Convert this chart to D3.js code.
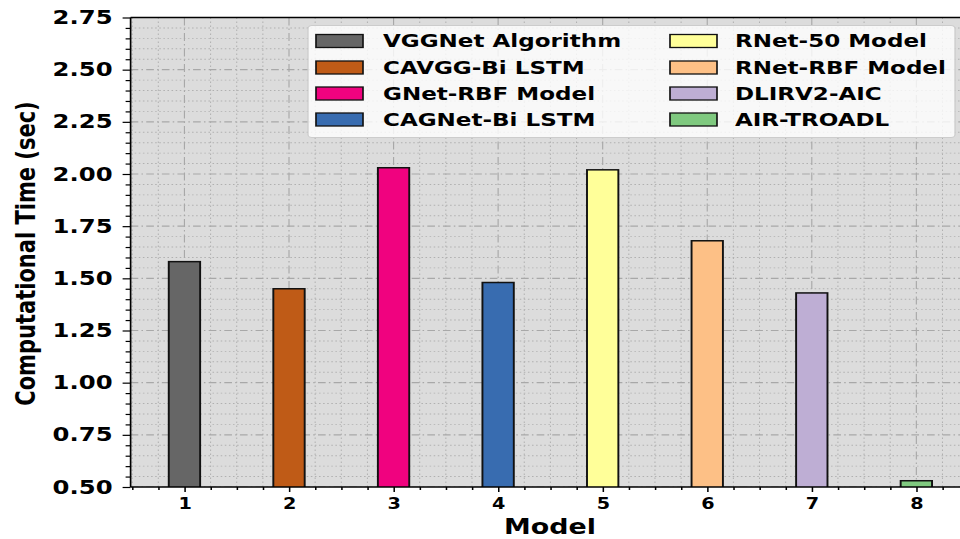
<!DOCTYPE html>
<html>
<head>
<meta charset="utf-8">
<script src="https://cdn.jsdelivr.net/npm/d3@7"></script>
<style>
  html, body { margin: 0; padding: 0; background: #ffffff; }
  svg { display: block; }
  text { font-family: "DejaVu Sans", sans-serif; font-weight: bold; }
</style>
</head>
<body>
<svg id="chart"></svg>
<script>
// ---- data ----
const categories = [1, 2, 3, 4, 5, 6, 7, 8];
const seriesNames = [
  "VGGNet Algorithm", "CAVGG-Bi LSTM", "GNet-RBF Model", "CAGNet-Bi LSTM",
  "RNet-50 Model", "RNet-RBF Model", "DLIRV2-AIC", "AIR-TROADL"
];
const values = [1.58, 1.45, 2.03, 1.48, 2.02, 1.68, 1.43, 0.53];
const colors = ["#666666", "#bf5b17", "#f0027f", "#386cb0", "#ffff99", "#fdc086", "#beaed4", "#7fc97f"];
const yTicks = [0.50, 0.75, 1.00, 1.25, 1.50, 1.75, 2.00, 2.25, 2.50, 2.75];
const xTicks = [1, 2, 3, 4, 5, 6, 7, 8];
const xLabel = "Model";
const yLabel = "Computational Time (sec)";

// ---- layout (figure is horizontally stretched) ----
const W = 960, H = 539, S = 1.28;
const VW = W / S;
const X = px => px / S;

const svg = d3.select("#chart")
  .attr("width", W).attr("height", H)
  .attr("viewBox", `0 0 ${VW} ${H}`)
  .attr("preserveAspectRatio", "none");

const x = d3.scaleLinear().domain([0.485, 8.515]).range([X(130.6), X(970.2)]);
const y = d3.scaleLinear().domain([0.5, 2.75]).range([487, 17.5]);

const pLeft = x.range()[0], pRight = x.range()[1];
const pTop = y.range()[1], pBottom = y.range()[0];

svg.append("defs").append("clipPath").attr("id", "plotclip")
  .append("rect").attr("x", pLeft).attr("y", pTop)
  .attr("width", pRight - pLeft).attr("height", pBottom - pTop);

// background
svg.append("rect").attr("x", pLeft).attr("y", pTop)
  .attr("width", pRight - pLeft).attr("height", pBottom - pTop)
  .attr("fill", "#dcdcdc");

const grid = svg.append("g").attr("clip-path", "url(#plotclip)");

// minor grids
const yMinor = d3.range(0.5, 2.7501, 0.05).filter(v => Math.abs((v * 4) - Math.round(v * 4)) > 1e-6);
const xMinor = d3.range(0.5, 8.51, 0.25).filter(v => Math.abs(v - Math.round(v)) > 1e-6);
grid.selectAll(".hmin").data(yMinor).join("line")
  .attr("x1", pLeft).attr("x2", pRight)
  .attr("y1", d => y(d)).attr("y2", d => y(d))
  .attr("stroke", "#b0b0b0").attr("stroke-width", 0.9).attr("stroke-dasharray", "1.2,2");
grid.selectAll(".vmin").data(xMinor).join("line")
  .attr("x1", d => x(d)).attr("x2", d => x(d))
  .attr("y1", pTop).attr("y2", pBottom)
  .attr("stroke", "#b0b0b0").attr("stroke-width", 0.8).attr("stroke-dasharray", "1.5,2.5");
// major grids
grid.selectAll(".hmaj").data(yTicks).join("line")
  .attr("x1", pLeft).attr("x2", pRight)
  .attr("y1", d => y(d)).attr("y2", d => y(d))
  .attr("stroke", "#a8a8a8").attr("stroke-width", 1.1).attr("stroke-dasharray", "6,2.5,1.2,2.5");
grid.selectAll(".vmaj").data(xTicks).join("line")
  .attr("x1", d => x(d)).attr("x2", d => x(d))
  .attr("y1", pTop).attr("y2", pBottom)
  .attr("stroke", "#a8a8a8").attr("stroke-width", 0.9).attr("stroke-dasharray", "8,3,1.5,3");

// bars
const barW = 0.3;
svg.append("g").attr("clip-path", "url(#plotclip)")
  .selectAll("rect").data(categories).join("rect")
  .attr("x", (d) => x(d - barW / 2))
  .attr("width", (d) => x(d + barW / 2) - x(d - barW / 2))
  .attr("y", (d, i) => y(values[i]))
  .attr("height", (d, i) => y(0) - y(values[i]))
  .attr("fill", (d, i) => colors[i])
  .attr("stroke", "#111").attr("stroke-width", 1.5);

// axes
const yAxis = d3.axisLeft(y).tickValues(yTicks).tickFormat(d3.format(".2f"))
  .tickSize(X(8)).tickPadding(X(10));
const yMinAxis = d3.axisLeft(y).tickValues(yMinor).tickFormat("").tickSize(X(5));
const xAxis = d3.axisBottom(x).tickValues(xTicks).tickFormat(d3.format("d"))
  .tickSize(5).tickPadding(6);
const xMinAxis = d3.axisBottom(x).tickValues(xMinor).tickFormat("").tickSize(3);

const gy = svg.append("g").attr("transform", `translate(${pLeft},0)`).call(yAxis);
gy.selectAll("text").attr("font-size", 19).attr("fill", "#000")
  .attr("font-family", "DejaVu Sans").attr("font-weight", "bold");
svg.append("g").attr("transform", `translate(${pLeft},0)`).call(yMinAxis);

const gx = svg.append("g").attr("transform", `translate(0,${pBottom})`).call(xAxis);
gx.selectAll("text").attr("font-size", 15).attr("fill", "#000")
  .attr("font-family", "DejaVu Sans").attr("font-weight", "bold");
svg.append("g").attr("transform", `translate(0,${pBottom})`).call(xMinAxis);

svg.selectAll(".domain").remove();
svg.selectAll(".tick line").attr("stroke", "#000").attr("stroke-width", 1.2);

// spines
svg.append("line").attr("x1", pLeft).attr("x2", pLeft).attr("y1", pTop).attr("y2", pBottom)
  .attr("stroke", "#000").attr("stroke-width", 1.3);
svg.append("line").attr("x1", pLeft).attr("x2", pRight).attr("y1", pBottom).attr("y2", pBottom)
  .attr("stroke", "#000").attr("stroke-width", 1.6);
svg.append("line").attr("x1", pLeft).attr("x2", pRight).attr("y1", pTop).attr("y2", pTop)
  .attr("stroke", "#000").attr("stroke-width", 1.6);

// axis labels
svg.append("text").attr("x", X(550)).attr("y", 534).attr("text-anchor", "middle")
  .attr("font-size", 21).attr("fill", "#000").text(xLabel);
svg.append("text")
  .attr("transform", `translate(${X(26)},${253.5}) rotate(-90)`)
  .attr("dy", "0.35em").attr("text-anchor", "middle")
  .attr("font-size", 21).attr("fill", "#000").text(yLabel);

// legend
const lg = svg.append("g");
lg.append("rect").attr("x", X(308)).attr("y", 25.5)
  .attr("width", X(955) - X(308)).attr("height", 137.5 - 25.5)
  .attr("rx", 3).attr("ry", 3)
  .attr("fill", "#ffffff").attr("fill-opacity", 0.8)
  .attr("stroke", "#cccccc").attr("stroke-width", 1);

const colHandle = [X(316), X(670)];
const colText = [X(383), X(735)];
const rowY = [41, 67.5, 93.5, 119.5];
seriesNames.forEach((name, i) => {
  const c = Math.floor(i / 4), r = i % 4;
  lg.append("rect").attr("x", colHandle[c]).attr("y", rowY[r] - 6.5)
    .attr("width", X(47)).attr("height", 13)
    .attr("fill", colors[i]).attr("stroke", "#111").attr("stroke-width", 1.3);
  lg.append("text").attr("x", colText[c]).attr("y", rowY[r]).attr("dy", "0.36em")
    .attr("font-size", 18).attr("fill", "#000").text(name);
});
</script>
</body>
</html>
